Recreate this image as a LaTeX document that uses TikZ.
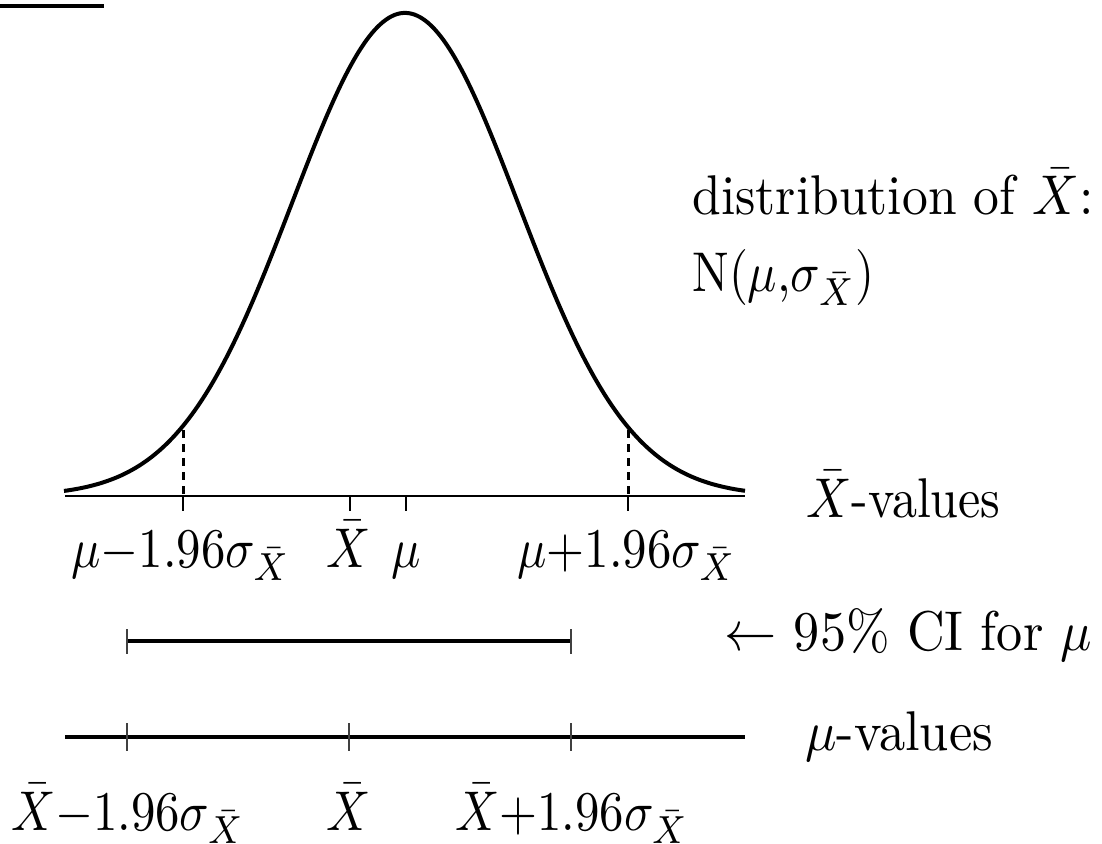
\documentclass[tikz,border=0pt]{standalone}
\usepackage{graphicx}
\newcommand{\Lbl}[2][2.44]{\scalebox{#1}[2.8]{#2}}
\begin{document}
\begin{tikzpicture}[x=0.5pt,y=-0.5pt,
  lbl/.style={inner sep=0pt},
  curve/.style={line width=2pt,line join=round},
  axis/.style={line width=1.2pt},
  tick/.style={line width=1.3pt},
  thintick/.style={line width=0.6pt,draw=black!75},
  dashline/.style={line width=1.5pt,dash pattern=on 4pt off 3pt},
  seg/.style={line width=1.8pt}]
\useasboundingbox (0,0) rectangle (1102,844);
% stray bar at top left
\fill (0,4) rectangle (104,8);
% normal curve
\draw[curve] plot[domain=64:745,samples=240,smooth] (\x,{496-483*exp(-((\x-405)/113)^2/2)});
% X-bar axis
\coordinate (axL) at (65,496);
\coordinate (axR) at (745,496);
\draw[axis] (axL) -- (axR);
\coordinate (lo) at (183,496);
\coordinate (hi) at (628,496);
\coordinate (xb) at (350,496);
\coordinate (mu) at (406,496);
\draw[dashline] (183,430) -- (183,496);
\draw[dashline] (628,430) -- (628,496);
\draw[tick] (lo) -- ++(0,15);
\draw[tick] (hi) -- ++(0,15);
\draw[tick] (xb) -- ++(0,15);
\draw[tick] (mu) -- ++(0,15);
\node[lbl,anchor=base] (llo) at (181,567) {\Lbl{$\mu{-}1.96\sigma_{\bar X}$}};
\node[lbl,anchor=base] (lxb) at (349,567) {\Lbl{$\bar X$}};
\node[lbl,anchor=base] (lmu) at (406,567) {\Lbl{$\mu$}};
\node[lbl,anchor=base] (lhi) at (627,567) {\Lbl{$\mu{+}1.96\sigma_{\bar X}$}};
\node[lbl,anchor=base west] (xvals) at (806,517) {\Lbl[2.5]{$\bar X$-values}};
\node[lbl,anchor=base west] (dist1) at (692,215) {\Lbl[2.58]{distribution of $\bar X$:}};
\node[lbl,anchor=base west] (dist2) at (692,292) {\Lbl{N($\mu$,$\sigma_{\bar X}$)}};
% CI
\coordinate (ciL) at (127,641);
\coordinate (ciR) at (571,641);
\draw[seg] (ciL) -- (ciR);
\draw[thintick] (127,629) -- (127,654);
\draw[thintick] (571,629) -- (571,654);
\node[lbl,anchor=base west] (cilab) at (724,650) {\Lbl[2.61]{$\leftarrow$ 95\% CI for $\mu$}};
% mu axis
\coordinate (mL) at (65,737);
\coordinate (mR) at (745,737);
\draw[seg] (mL) -- (mR);
\draw[thintick] (127,723) -- (127,751);
\draw[thintick] (349,723) -- (349,751);
\draw[thintick] (571,723) -- (571,751);
\node[lbl,anchor=base west] (muvals) at (805,750) {\Lbl[2.62]{$\mu$-values}};
\node[lbl,anchor=base] (blo) at (128,830) {\Lbl{$\bar X{-}1.96\sigma_{\bar X}$}};
\node[lbl,anchor=base] (bxb) at (349,830) {\Lbl{$\bar X$}};
\node[lbl,anchor=base] (bhi) at (572,830) {\Lbl{$\bar X{+}1.96\sigma_{\bar X}$}};
\end{tikzpicture}
\end{document}
